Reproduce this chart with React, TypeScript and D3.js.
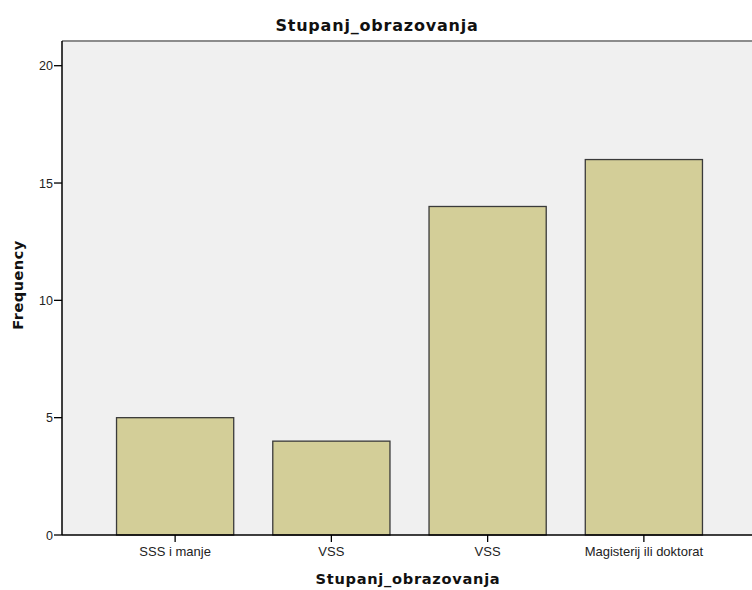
import React from "react";
import * as d3 from "d3";

const categories = ["SSS i manje", "VSS", "VSS", "Magisterij ili doktorat"];
const frequencies = [5, 4, 14, 16];
const yTicks = [0, 5, 10, 15, 20];

const W = 752;
const H = 590;
const left = 62;
const right = 752;
const top = 41;
const bottom = 535;

export default function App() {
  const x = d3
    .scaleBand<number>()
    .domain(categories.map((_, i) => i))
    .range([97, 722])
    .paddingInner(0.25)
    .paddingOuter(0.125);
  const y = d3.scaleLinear().domain([0, 20]).range([bottom, 65.7]);
  const font = "Arial, 'Liberation Sans', sans-serif";
  const boldFont = "'DejaVu Sans', Verdana, sans-serif";

  return (
    <svg
      width={W}
      height={H}
      style={{ position: "absolute", left: 0, top: 0, background: "#fff" }}
      fontFamily={font}
    >
      <rect x={left} y={top} width={right - left} height={bottom - top} fill="#f0f0f0" />
      <line x1={left} x2={right} y1={top} y2={top} stroke="#8c8c8c" strokeWidth={2} />
      {frequencies.map((v, i) => (
        <rect
          key={i}
          x={x(i)!}
          y={y(v)}
          width={x.bandwidth()}
          height={y(0) - y(v)}
          fill="#d3ce98"
          stroke="#3a3a3a"
          strokeWidth={1.3}
        />
      ))}
      <line x1={left} x2={left} y1={top} y2={bottom} stroke="#000" strokeWidth={1.5} />
      <line x1={left} x2={right} y1={bottom} y2={bottom} stroke="#000" strokeWidth={1.5} />
      {yTicks.map((t) => (
        <g key={t}>
          <line x1={left - 8} x2={left} y1={y(t)} y2={y(t)} stroke="#000" strokeWidth={1.3} />
          <text x={left - 9} y={y(t)} dy="0.36em" textAnchor="end" fontSize={12.5} fill="#222">
            {t}
          </text>
        </g>
      ))}
      {categories.map((c, i) => {
        const cx = x(i)! + x.bandwidth() / 2;
        return (
          <g key={i}>
            <line x1={cx} x2={cx} y1={bottom} y2={bottom + 7} stroke="#000" strokeWidth={1.3} />
            <text x={cx} y={bottom + 21} textAnchor="middle" fontSize={13} fill="#222">
              {c}
            </text>
          </g>
        );
      })}
      <text x={377} y={31} textAnchor="middle" fontSize={16} letterSpacing={0.8} fontWeight="bold" fill="#111" fontFamily={boldFont}>
        Stupanj_obrazovanja
      </text>
      <text x={408} y={584} textAnchor="middle" fontSize={14.6} letterSpacing={0.7} fontWeight="bold" fill="#111" fontFamily={boldFont}>
        Stupanj_obrazovanja
      </text>
      <text
        transform={`translate(23,285) rotate(-90)`}
        textAnchor="middle"
        fontSize={14.5}
        letterSpacing={0.5}
        fontWeight="bold"
        fill="#111"
        fontFamily={boldFont}
      >
        Frequency
      </text>
    </svg>
  );
}
